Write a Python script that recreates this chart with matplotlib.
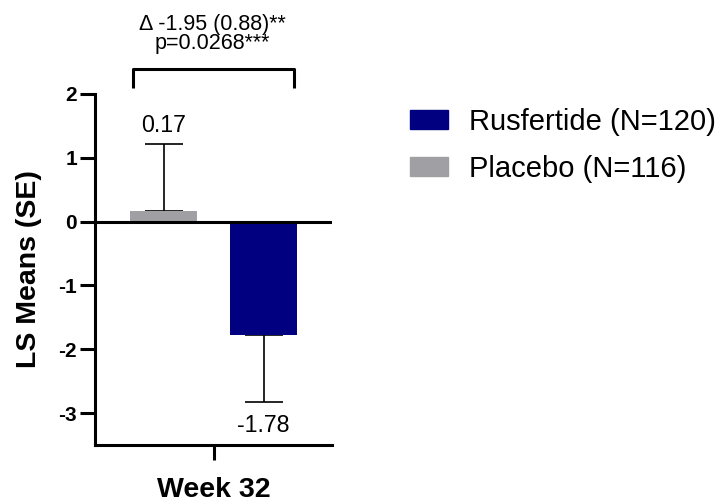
import numpy as np
import matplotlib
matplotlib.use("Agg")
import matplotlib.pyplot as plt
from matplotlib.patches import Patch

plt.rcParams['font.family'] = ['Liberation Sans', 'DejaVu Sans']
plt.rcParams['axes.unicode_minus'] = False

# data
groups = ["Placebo (N=116)", "Rusfertide (N=120)"]
ls_means = [0.17, -1.78]
se = [1.05, 1.05]
colors = ["#A09FA4", "#000080"]
mean_labels = ["0.17", "-1.78"]
timepoint = "Week 32"
diff_text = "Δ -1.95 (0.88)**"
p_text = "p=0.0268***"

fig = plt.figure(figsize=(7.18, 5.03), dpi=100)
ax = fig.add_axes([0.1325, 0.1153, 0.330, 0.698])

x = np.arange(len(groups))
ax.bar(x, ls_means, width=0.67, color=colors, zorder=2)

# one-sided error bars (away from zero)
for xi, m, s in zip(x, ls_means, se):
    if m >= 0:
        yerr = [[0], [s]]
    else:
        yerr = [[s], [0]]
    ax.errorbar(xi, m, yerr=yerr, fmt='none', ecolor='black', elinewidth=1.2,
                capsize=14, capthick=1.2, zorder=1)

# value labels
for xi, m, s, lab in zip(x, ls_means, se, mean_labels):
    if m >= 0:
        ax.text(xi, m + s + 0.19, lab, ha='center', va='baseline', fontsize=16.7)
    else:
        ax.text(xi, m - s - 0.47, lab, ha='center', va='baseline', fontsize=16.7)

ax.axhline(0, color='black', linewidth=2.2, zorder=3)

ax.set_xlim(-0.685, 1.685)
ax.set_ylim(-3.5, 2)
ax.set_yticks([2, 1, 0, -1, -2, -3])
ax.set_xticks([0.5])
ax.set_xticklabels([timepoint], fontsize=20.5, fontweight='bold')
ax.set_ylabel("LS Means (SE)", fontsize=20.5, fontweight='bold', labelpad=12)
for lab in ax.get_yticklabels():
    lab.set_fontweight('bold')
    lab.set_fontsize(15)

ax.spines['top'].set_visible(False)
ax.spines['right'].set_visible(False)
ax.spines['left'].set_linewidth(2.2)
ax.spines['bottom'].set_linewidth(2.2)
ax.tick_params(axis='both', direction='out', width=2.2, length=11, pad=2)
ax.tick_params(axis='x', pad=12)

# significance bracket
ax.plot([-0.305, -0.305, 1.305, 1.305], [2.10, 2.39, 2.39, 2.10], color='black',
        linewidth=2.2, clip_on=False, solid_capstyle='butt')
ax.text(0.49, 2.70, diff_text + "\n" + p_text, ha='center', va='baseline',
        multialignment='center', fontsize=15.5, linespacing=0.92)

# legend
handles = [Patch(color=colors[1], label=groups[1]), Patch(color=colors[0], label=groups[0])]
fig.legend(handles=handles, loc='upper left', bbox_to_anchor=(0.571, 0.786),
           frameon=False, fontsize=21, handlelength=1.30, handleheight=0.65,
           handletextpad=0.72, labelspacing=0.65, borderpad=0, borderaxespad=0)

fig.savefig("out.png", dpi=100)
